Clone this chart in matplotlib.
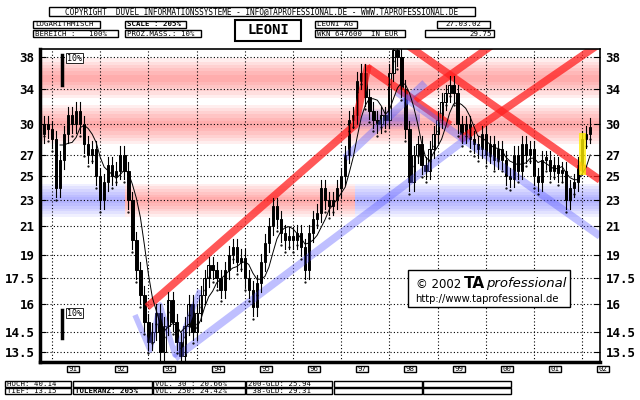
import numpy as np
import matplotlib
matplotlib.use("Agg")
import matplotlib.pyplot as plt
from matplotlib.patches import Rectangle

# ---------------- data ----------------
start_year = 1990 + 9/12  # Oct 1990
closes = [29, 30, 29.5,
          28.5, 24, 26.5, 29, 31, 30, 31.5, 30, 28, 27, 27.5, 25,
          23, 24.5, 26, 25, 25.5, 27, 25.5, 23, 20, 18, 16.5, 15,
          14, 14.5, 15.5, 13.5, 14.8, 16.2, 15, 14, 13.3, 14.8, 16, 14.5,
          15.5, 16.5, 17.5, 18.3, 18, 17.5, 16.8, 18, 19, 19.5, 18.5, 18.8,
          17.5, 16.8, 15.8, 17.2, 18.5, 19.8, 21, 22.5, 21.5, 20.5, 20, 20.3,
          20, 20.5, 19.5, 18, 20.5, 21.5, 22, 24, 23, 22.5, 23, 24,
          25, 27, 30.5, 31, 35, 36, 33, 31.5, 30.5, 30, 31, 30.5,
          36, 39, 38, 34, 29.5, 24.5, 27, 28, 26, 25.5, 27.5, 29,
          30.5, 32.5, 33.5, 34.5, 33.5, 30, 29, 30, 28.5, 28, 27.5, 29,
          27, 28, 26.5, 27.5, 26.5, 25, 24.8, 27, 25.5, 28, 27, 27.5,
          25, 24.5, 26.5, 26.5, 25.5, 26, 25.3, 25.5, 23, 24, 24.5, 26,
          28.5, 29, 29.75]
yticks = [13.5, 14.5, 16, 17.5, 19, 21, 23, 25, 27, 30, 34, 38]
year_labels = ["91", "92", "93", "94", "95", "96", "97", "98", "99", "00", "01", "02"]
year_starts = list(range(1991, 2003))

# channel lines in pixel coordinates of the reference (x, y)
red_lines = [[(147, 307), (355, 125), (368, 65)],
             [(367, 67), (450, 125)],
             [(403, 42), (600, 180)],
             [(415, 100), (505, 36)],
             [(460, 140), (605, 40)]]
blue_lines = [[(175, 358), (470, 136)],
              [(345, 158), (425, 83)],
              [(397, 92), (600, 236)],
              [(135, 315), (150, 350), (160, 305), (175, 355), (200, 290)]]

# ---------------- helpers ----------------
def px2year(x):
    return 1991 + (x - 52) / 48.2

def px2price(y):
    return np.exp(3.638 - (y - 57) / 285)

W, H = 640, 400
fig = plt.figure(figsize=(6.4, 4.0), dpi=100)
fig.patch.set_facecolor("white")

ax = fig.add_axes([40 / W, 1 - 362 / H, 560 / W, 313 / H])
ax.set_yscale("log")
ax.set_xlim(px2year(40), px2year(600))
ax.set_ylim(px2price(362), px2price(49))

RED, BLUE = "#ff3030", "#4040ff"
def band(level, x0, x1, col, w=0.012):
    for k in range(6):
        f = 1 + w * (6 - k)
        ax.fill_between([px2year(x0), px2year(x1)], level / f, level * f,
                        color=col, alpha=0.08, lw=0)

band(35.3, 40, 600, RED)
band(30.0, 40, 600, RED)
band(30.6, 355, 420, BLUE, 0.006)
band(23.0, 40, 125, BLUE, 0.01)
band(23.0, 125, 355, RED, 0.01)
band(23.0, 355, 600, BLUE, 0.01)

# grid
for yt in yticks:
    ax.axhline(yt, color="black", ls=(0, (1, 2)), lw=0.8)
for ys in year_starts:
    ax.axvline(ys, color="black", ls=(0, (1, 2)), lw=0.8)

# channels
for line in red_lines:
    xs = [px2year(p[0]) for p in line]
    ys = [px2price(p[1]) for p in line]
    ax.plot(xs, ys, color="#ff2020", lw=5.5, alpha=0.75, solid_capstyle="butt")
for i, line in enumerate(blue_lines):
    xs = [px2year(p[0]) for p in line]
    ys = [px2price(p[1]) for p in line]
    ax.plot(xs, ys, color="#6060ff", lw=5.5 if i < 3 else 4, alpha=0.4, solid_capstyle="butt")

# candles
c = np.array(closes)
t = start_year + np.arange(len(c)) / 12.0
opens = np.concatenate([[c[0]], c[:-1]])
for ti, o, cl in zip(t, opens, c):
    hi, lo = max(o, cl) * 1.03, min(o, cl) * 0.97
    ax.plot([ti, ti], [lo, hi], color="black", lw=0.8)
    body_lo, body_hi = min(o, cl), max(o, cl)
    if body_hi / body_lo < 1.01:
        body_hi = body_lo * 1.01
    ax.add_patch(Rectangle((ti - 0.025, body_lo), 0.05, body_hi - body_lo,
                           facecolor="white" if cl >= o else "black",
                           edgecolor="black", lw=0.7))
# moving average
ma = np.convolve(c, np.ones(6) / 6, mode="valid")
ax.plot(t[5:], ma, color="black", lw=0.7)
ax.plot(t, c * 0.96, ls="none", marker=".", ms=1.2, color="black")

# yellow highlight at end
ax.plot([t[-3], t[-3]], [25.5, 28.8], color="#ffee00", lw=5, alpha=0.8)

for s in ax.spines.values():
    s.set_linewidth(1.2)
ax.spines["left"].set_linewidth(2.5)
ax.spines["bottom"].set_linewidth(2.5)
ax.set_yticks(yticks)
ax.set_yticklabels([str(v) for v in yticks])
ax.yaxis.set_minor_locator(matplotlib.ticker.NullLocator())
ax.tick_params(axis="y", which="both", left=True, right=True, labelleft=True,
               labelright=True, direction="in", length=4, labelsize=9, pad=4)
for lab in ax.get_yticklabels():
    lab.set_fontfamily("DejaVu Sans Mono")
    lab.set_fontweight("bold")
ax.set_xticks([])

# 10% markers
for (yy0, yy1) in [(55, 85), (310, 338)]:
    ax.plot([px2year(62)] * 2, [px2price(yy0), px2price(yy1)], color="black", lw=2.5)
    ax.text(px2year(67), px2price(yy0 + 3), "10%", fontsize=6, va="center",
            fontfamily="DejaVu Sans Mono",
            bbox=dict(facecolor="white", edgecolor="black", lw=0.6, pad=0.5))

# TA professional box
fig.patches.append(Rectangle((408 / W, 1 - 307 / H), 162 / W, 37 / H, transform=fig.transFigure,
                             facecolor="white", edgecolor="black", lw=1, zorder=5))
fig.text(416 / W, 1 - 284 / H, "© 2002", fontsize=8.5, va="center", zorder=6)
fig.text(464 / W, 1 - 284 / H, "TA", fontsize=11, fontweight="bold", va="center", zorder=6)
fig.text(486 / W, 1 - 284 / H, "professional", fontsize=9.5, style="italic", va="center", zorder=6)
fig.text(415 / W, 1 - 299 / H, "http://www.taprofessional.de", fontsize=7.2, va="center", zorder=6)

# ---------------- header / footer boxes ----------------
def box(x0, y0, x1, y1, text="", ha="left", fs=5.3, bold=False, lw=1):
    fig.patches.append(Rectangle((x0 / W, 1 - y1 / H), (x1 - x0) / W, (y1 - y0) / H,
                                 transform=fig.transFigure, facecolor="white",
                                 edgecolor="black", lw=lw))
    if text:
        xx = x0 + 2 if ha == "left" else (x1 - 2 if ha == "right" else (x0 + x1) / 2)
        fig.text(xx / W, 1 - (y0 + y1) / 2 / H, text, ha=ha, va="center", fontsize=fs,
                 fontfamily="DejaVu Sans Mono", fontweight="bold" if bold else "normal")

box(49, 7, 475, 16, "COPYRIGHT  DUVEL INFORMATIONSSYSTEME - INFO@TAPROFESSIONAL.DE - WWW.TAPROFESSIONAL.DE", ha="center", fs=5.6)
box(33, 21, 100, 28, "LOGARITHMISCH")
box(33, 30, 118, 37, "BEREICH :   100%")
box(125, 21, 186, 28, "SCALE : 205%", bold=True)
box(125, 30, 201, 37, "PROZ.MASS.: 10%")
box(235, 20, 301, 41, "LEONI", ha="center", fs=10, bold=True, lw=1.5)
box(315, 21, 357, 28, "LEONI AG")
box(315, 30, 405, 37, "WKN 647600  IN EUR")
box(437, 21, 490, 28, "27.03.02", ha="center")
box(425, 30, 494, 37, "29.75", ha="right")

for ys, lab in zip(year_starts, year_labels):
    xc = 52 + 48.2 * (ys - 1991) + 24 - 3
    box(xc - 6, 366, xc + 6, 372, lab, ha="center", fs=5.3)

box(5, 381, 71, 387, "HOCH: 40.14")
box(5, 388, 71, 394, "TIEF: 13.15")
box(73, 381, 152, 387)
box(73, 388, 152, 394, "TOLERANZ: 205%", bold=True)
box(153, 381, 245, 387, "VOL. 30 : 20.66%")
box(153, 388, 245, 394, "VOL. 250: 24.42%")
box(246, 381, 332, 387, "200-GLD: 25.94")
box(246, 388, 332, 394, " 38-GLD: 29.31")
box(334, 381, 422, 387)
box(334, 388, 422, 394)
box(423, 381, 511, 387)
box(423, 388, 511, 394)

fig.savefig("out.png", dpi=100, facecolor="white")
